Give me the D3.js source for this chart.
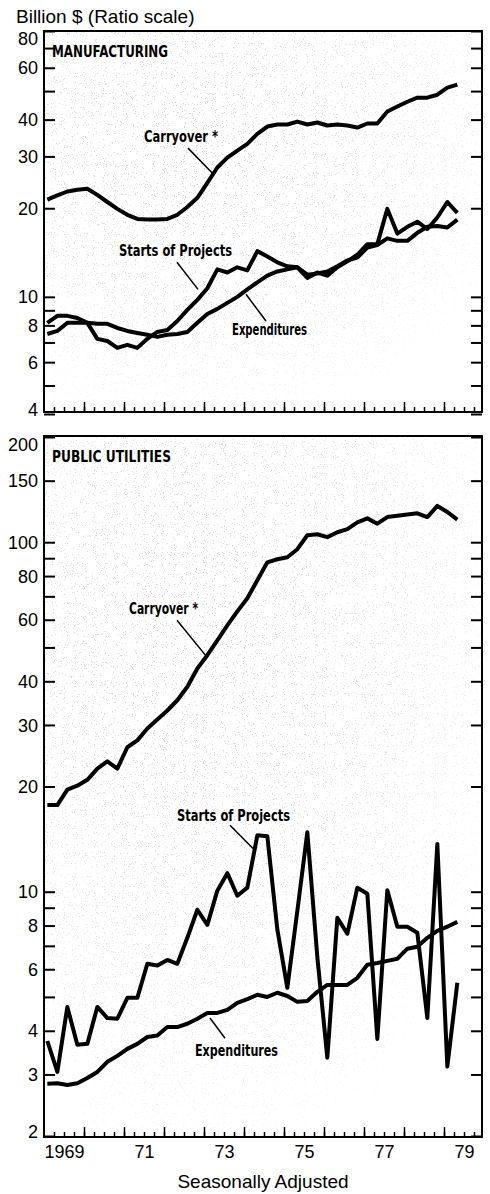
<!DOCTYPE html>
<html>
<head>
<meta charset="utf-8">
<script src="https://cdn.jsdelivr.net/npm/d3@7"></script>
<style>
  body { margin: 0; background: #fff; }
  svg { display: block; }
  .note { font-family: "Liberation Sans Narrow", "DejaVu Sans Condensed", "DejaVu Sans", sans-serif; font-weight: bold; fill: #000; }
  .plain { font-family: "Liberation Sans", Arial, sans-serif; fill: #000; }
</style>
</head>
<body>
<svg id="chart" width="490" height="1194"></svg>
<script>
// quarterly observations, 1969 Q1 .. 1979 Q2
const quarters = d3.range(1969, 1980)
	.flatMap(year => [1, 2, 3, 4].map(q => ({year, q})))
	.slice(0, 42);

// manufacturing, billion $
const mfgCarryover = [21.4, 22.1, 22.8, 23.1, 23.3, 22.2, 21.0, 19.9, 19.0, 18.4,
	18.3, 18.3, 18.4, 19.0, 20.2, 21.7, 24.4, 27.5, 29.7, 31.4,
	33.1, 35.8, 37.9, 38.5, 38.5, 39.4, 38.5, 39.1, 38.2, 38.5,
	38.2, 37.6, 38.8, 38.8, 42.6, 44.3, 46.0, 47.5, 47.5, 48.6,
	51.4, 52.6];
const mfgStarts = [8.16, 8.62, 8.62, 8.48, 8.16, 7.20, 7.08, 6.71, 6.87, 6.71,
	7.20, 7.60, 7.72, 8.28, 9.03, 9.77, 10.7, 12.4, 12.1, 12.6,
	12.3, 14.3, 13.7, 13.1, 12.7, 12.6, 11.6, 12.1, 11.8, 12.6,
	13.2, 13.9, 15.1, 15.1, 19.9, 16.4, 17.3, 18.0, 17.0, 18.6,
	21.0, 19.3];
const mfgExpend = [7.48, 7.66, 8.16, 8.16, 8.16, 8.10, 8.10, 7.84, 7.66, 7.54,
	7.43, 7.31, 7.43, 7.48, 7.60, 8.16, 8.75, 9.10, 9.54, 10.0,
	10.6, 11.2, 11.8, 12.2, 12.4, 12.6, 11.9, 12.0, 12.2, 12.7,
	13.3, 13.6, 14.7, 15.0, 15.8, 15.5, 15.5, 16.5, 17.3, 17.4,
	17.2, 18.3];

// public utilities, billion $
const utilCarryover = [17.7, 17.7, 19.6, 20.1, 20.9, 22.5, 23.6, 22.5, 25.9, 27.1,
	29.3, 31.1, 33.0, 35.3, 38.6, 43.5, 47.5, 52.4, 57.8, 63.4,
	69.1, 77.8, 87.6, 89.4, 90.6, 95.5, 104.7, 105.4, 103.4, 106.8,
	109, 114, 117, 113, 118, 119, 120, 121, 118, 127,
	122, 116];
const utilStarts = [3.74, 3.05, 4.68, 3.65, 3.67, 4.68, 4.35, 4.33, 4.97, 4.97,
	6.22, 6.15, 6.38, 6.22, 7.38, 8.88, 8.04, 10.07, 11.3, 9.74,
	10.27, 14.5, 14.4, 7.8, 5.31, 8.8, 14.8, 6.5, 3.35, 8.42,
	7.58, 10.27, 9.87, 3.79, 10.1, 7.94, 7.94, 7.63, 4.35, 13.7,
	3.16, 5.49];
const utilExpend = [2.82, 2.83, 2.80, 2.83, 2.93, 3.05, 3.26, 3.39, 3.55, 3.67,
	3.84, 3.88, 4.10, 4.10, 4.19, 4.33, 4.50, 4.50, 4.59, 4.81,
	4.93, 5.07, 5.00, 5.14, 5.03, 4.84, 4.87, 5.17, 5.41, 5.41,
	5.41, 5.67, 6.18, 6.25, 6.34, 6.43, 6.87, 6.96, 7.38, 7.73,
	7.94, 8.20];

// axis ticks
const mfgTicks = [4, 5, 6, 7, 8, 9, 10, 20, 30, 40, 50, 60, 70, 80];
const mfgTickLabels = [4, 6, 8, 10, 20, 30, 40, 60, 80];
const utilTicks = [2, 3, 4, 5, 6, 7, 8, 9, 10, 20, 30, 40, 50, 60, 70, 80, 90, 100, 150, 200];
const utilTickLabels = [2, 3, 4, 6, 8, 10, 20, 30, 40, 60, 80, 100, 150, 200];
const labelYears = [1969, 1971, 1973, 1975, 1977, 1979];
const yearLabels = ["1969", "71", "73", "75", "77", "79"];

// annotation text + leader lines, in (year, value) coordinates
const mfgNotes = [
	{text: "Carryover *", width: 74, at: [1971.5, 33.6], line: [[1972.6, 32.0], [1973.2, 26.4]]},
	{text: "Starts of Projects", width: 113, at: [1970.875, 13.8], line: [[1972.325, 13.1], [1972.85, 10.6]]},
	{text: "Expenditures", width: 75, at: [1973.7, 7.42], line: [[1974.05, 10.2], [1974.55, 8.28]]}
];
const utilNotes = [
	{text: "Carryover *", width: 69, at: [1971.125, 62.2], line: [[1972.325, 59.8], [1973.075, 46.9]]},
	{text: "Starts of Projects", width: 113, at: [1972.325, 15.9], line: [[1973.65, 15.5], [1974.225, 13.3]]},
	{text: "Expenditures", width: 83, at: [1972.775, 3.38], line: [[1973.525, 3.81], [1973.15, 4.35]]}
];

const left = 44, right = 482;
const svg = d3.select("#chart");

const x = d3.scaleLinear()
	.domain([1969, 1979.95])
	.range([left, right]);

// each quarter plotted at its middle month
const xPos = quarters.map(d => d.year + (3 * (d.q - 1) + 1) / 12);

const panels = [
	{title: "MANUFACTURING", titleWidth: 116, top: 31, bottom: 412, domain: [4, 80], range: [414, 31],
		ticks: mfgTicks, tickLabels: mfgTickLabels,
		series: [mfgCarryover, mfgStarts, mfgExpend], notes: mfgNotes},
	{title: "PUBLIC UTILITIES", titleWidth: 119, top: 436, bottom: 1137, domain: [2, 200], range: [1136, 437],
		ticks: utilTicks, tickLabels: utilTickLabels,
		series: [utilCarryover, utilStarts, utilExpend], notes: utilNotes}
];

// light speckle, a bit denser toward the upper left
const defs = svg.append("defs");
const grain = defs.append("filter").attr("id", "grain")
	.attr("x", 0).attr("y", 0).attr("width", "100%").attr("height", "100%");
grain.append("feTurbulence")
	.attr("type", "fractalNoise")
	.attr("baseFrequency", 0.9)
	.attr("numOctaves", 2)
	.attr("seed", 7);
grain.append("feColorMatrix")
	.attr("type", "matrix")
	.attr("values", "0 0 0 0 0.5  0 0 0 0 0.5  0 0 0 0 0.5  22 0 0 0 -14.6");

const fade = defs.append("radialGradient").attr("id", "fade")
	.attr("cx", 0.35).attr("cy", 0.3).attr("r", 0.8);
fade.append("stop").attr("offset", 0).attr("stop-color", "#aaa");
fade.append("stop").attr("offset", 0.6).attr("stop-color", "#666");
fade.append("stop").attr("offset", 1).attr("stop-color", "#000");

svg.append("text")
	.attr("class", "plain")
	.attr("x", 16)
	.attr("y", 23)
	.attr("font-size", 19)
	.text("Billion $ (Ratio scale)");

panels.forEach((p, k) => {
	const y = d3.scaleLog().domain(p.domain).range(p.range);
	const g = svg.append("g");

	const mask = defs.append("mask").attr("id", "m" + k);
	mask.append("rect")
		.attr("x", left).attr("y", p.top)
		.attr("width", right - left).attr("height", p.bottom - p.top)
		.attr("fill", "url(#fade)");

	g.append("rect")
		.attr("x", left).attr("y", p.top)
		.attr("width", right - left).attr("height", p.bottom - p.top)
		.attr("fill", "#fff")
		.attr("filter", "url(#grain)")
		.attr("mask", "url(#m" + k + ")");

	// y ticks, both sides, inward
	g.append("g")
		.attr("transform", `translate(${left},0)`)
		.call(d3.axisLeft(y).tickValues(p.ticks).tickSize(-11).tickPadding(6)
			.tickFormat(d => p.tickLabels.includes(d) ? d : ""))
		.call(a => a.select(".domain").remove())
		.call(a => a.selectAll("line").attr("stroke", "#000").attr("stroke-width", 2))
		.call(a => a.selectAll("text")
			.attr("font-family", "'Liberation Sans', Arial, sans-serif")
			.attr("font-size", 18)
			.attr("fill", "#000")
			.attr("dy", d => d === p.domain[1] ? "0.75em" : d === p.domain[0] ? "0.1em" : "0.34em"));

	g.append("g")
		.attr("transform", `translate(${right},0)`)
		.call(d3.axisRight(y).tickValues(p.ticks).tickSize(-11).tickFormat(""))
		.call(a => a.select(".domain").remove())
		.call(a => a.selectAll("line").attr("stroke", "#000").attr("stroke-width", 2));

	// quarter and year ticks on the bottom edge
	g.append("g")
		.attr("transform", `translate(0,${p.bottom})`)
		.call(d3.axisBottom(x).tickValues(d3.range(1969.25, 1979.9, 0.25)).tickSize(-5).tickFormat(""))
		.call(a => a.select(".domain").remove())
		.call(a => a.selectAll("line").attr("stroke", "#000").attr("stroke-width", 1.5));

	g.append("g")
		.attr("transform", `translate(0,${p.bottom})`)
		.call(d3.axisBottom(x).tickValues(d3.range(1970, 1980)).tickSize(-10).tickFormat(""))
		.call(a => a.select(".domain").remove())
		.call(a => a.selectAll("line").attr("stroke", "#000").attr("stroke-width", 1.5));

	g.append("rect")
		.attr("x", left).attr("y", p.top)
		.attr("width", right - left).attr("height", p.bottom - p.top)
		.attr("fill", "none")
		.attr("stroke", "#000")
		.attr("stroke-width", 2);

	const line = d3.line()
		.x((d, i) => x(xPos[i]))
		.y(d => y(d));

	g.selectAll("path.series")
		.data(p.series)
		.join("path")
		.attr("class", "series")
		.attr("fill", "none")
		.attr("stroke", "#000")
		.attr("stroke-width", 4)
		.attr("stroke-linejoin", "round")
		.attr("d", line);

	g.append("text")
		.attr("class", "note")
		.attr("x", left + 8)
		.attr("y", p.top + 26)
		.attr("font-size", 16)
		.attr("textLength", p.titleWidth)
		.attr("lengthAdjust", "spacingAndGlyphs")
		.text(p.title);

	const notes = g.selectAll("g.note-g")
		.data(p.notes)
		.join("g")
		.attr("class", "note-g");

	notes.append("path")
		.attr("fill", "none")
		.attr("stroke", "#000")
		.attr("stroke-width", 1.5)
		.attr("d", d => d3.line()(d.line.map(([yr, v]) => [x(yr), y(v)])));

	notes.append("text")
		.attr("class", "note")
		.attr("x", d => x(d.at[0]))
		.attr("y", d => y(d.at[1]))
		.attr("font-size", 16)
		.attr("textLength", d => d.width)
		.attr("lengthAdjust", "spacingAndGlyphs")
		.text(d => d.text);
});

// year labels under the lower panel
svg.append("g")
	.attr("transform", `translate(0,${panels[1].bottom})`)
	.call(d3.axisBottom(x).tickValues(labelYears.map(d => d + 0.5)).tickSize(0).tickPadding(8)
		.tickFormat((d, i) => yearLabels[i]))
	.call(a => a.select(".domain").remove())
	.call(a => a.selectAll("text")
		.attr("font-family", "'Liberation Sans', Arial, sans-serif")
		.attr("font-size", 18)
		.attr("fill", "#000"));

svg.append("text")
	.attr("class", "plain")
	.attr("x", 263)
	.attr("y", 1188)
	.attr("text-anchor", "middle")
	.attr("font-size", 19)
	.text("Seasonally Adjusted");
</script>
</body>
</html>
